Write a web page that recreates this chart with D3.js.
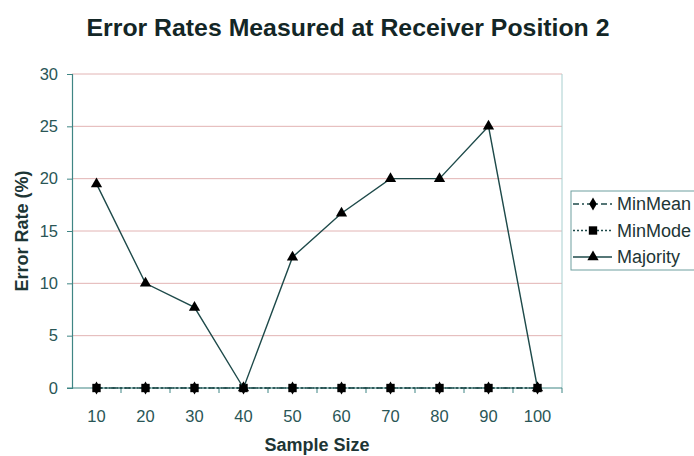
<!DOCTYPE html>
<html>
<head>
<meta charset="utf-8">
<script src="https://cdn.jsdelivr.net/npm/d3@7"></script>
<style>
  body { margin: 0; background: #fff; }
  text { font-family: "Liberation Sans", Arial, sans-serif; }
</style>
</head>
<body>
<div id="chart"></div>
<script>
// chart data
const sampleSizes = [10, 20, 30, 40, 50, 60, 70, 80, 90, 100];
const minMean = [0, 0, 0, 0, 0, 0, 0, 0, 0, 0];
const minMode = [0, 0, 0, 0, 0, 0, 0, 0, 0, 0];
const majority = [19.5, 10, 7.7, 0, 12.5, 16.7, 20, 20, 25, 0];
const yTicks = [0, 5, 10, 15, 20, 25, 30];

const width = 694;
const height = 456;
const margin = { top: 74, right: 132, bottom: 68, left: 72 };

const svg = d3.select('#chart').append('svg')
  .attr('width', width)
  .attr('height', height);

const xScale = d3.scaleBand()
  .domain(sampleSizes)
  .range([margin.left, width - margin.right]);

const yScale = d3.scaleLinear()
  .domain([0, 30])
  .range([height - margin.bottom, margin.top]);

const axisColor = '#3f8584';
const lineColor = '#1e4a4a';
const labelColor = '#2a5656';

// gridlines
svg.append('g')
  .selectAll('line')
  .data(yTicks.filter(d => d > 0))
  .enter()
  .append('line')
  .attr('x1', margin.left)
  .attr('x2', width - margin.right)
  .attr('y1', d => yScale(d))
  .attr('y2', d => yScale(d))
  .attr('stroke', '#e2b4b4')
  .attr('stroke-width', 1);

// plot border (right side)
svg.append('line')
  .attr('x1', width - margin.right)
  .attr('x2', width - margin.right)
  .attr('y1', margin.top)
  .attr('y2', height - margin.bottom)
  .attr('stroke', '#a8cfcf');

// y-axis
const yAxis = svg.append('g')
  .attr('transform', `translate(${margin.left}, 0)`)
  .call(d3.axisLeft(yScale).tickValues(yTicks).tickSize(5).tickPadding(9));
yAxis.select('.domain').attr('stroke', axisColor).attr('stroke-width', 1.2);
yAxis.selectAll('.tick line').attr('stroke', axisColor);
yAxis.selectAll('.tick text')
  .attr('font-size', 16.5)
  .attr('fill', labelColor)
  .attr('font-family', '"Liberation Sans", Arial, sans-serif');

// x-axis: ticks between categories
const xAxisG = svg.append('g')
  .attr('transform', `translate(0, ${height - margin.bottom})`);
xAxisG.append('line')
  .attr('x1', margin.left - 5)
  .attr('x2', width - margin.right)
  .attr('stroke', axisColor)
  .attr('stroke-width', 1.2);
xAxisG.selectAll('.xtick')
  .data(sampleSizes)
  .enter()
  .append('line')
  .attr('x1', d => xScale(d) + xScale.bandwidth())
  .attr('x2', d => xScale(d) + xScale.bandwidth())
  .attr('y1', 0)
  .attr('y2', 5)
  .attr('stroke', axisColor);
xAxisG.selectAll('.xlabel')
  .data(sampleSizes)
  .enter()
  .append('text')
  .attr('x', d => xScale(d) + xScale.bandwidth() / 2)
  .attr('y', 34)
  .attr('text-anchor', 'middle')
  .attr('font-size', 16.5)
  .attr('fill', labelColor)
  .text(d => d);

const line = d3.line()
  .x((d, i) => xScale(sampleSizes[i]) + xScale.bandwidth() / 2)
  .y(d => yScale(d));

const series = [
  { name: 'MinMean', values: minMean, dash: '6,3,2,3', marker: d3.symbolDiamond, size: 50 },
  { name: 'MinMode', values: minMode, dash: '2,2', marker: d3.symbolSquare, size: 70 },
  { name: 'Majority', values: majority, dash: null, marker: d3.symbolTriangle, size: 55 }
];

series.forEach(s => {
  svg.append('path')
    .datum(s.values)
    .attr('d', line)
    .attr('fill', 'none')
    .attr('stroke', lineColor)
    .attr('stroke-width', 1.4)
    .attr('stroke-dasharray', s.dash);

  svg.selectAll(null)
    .data(s.values)
    .enter()
    .append('path')
    .attr('d', d3.symbol().type(s.marker).size(s.size))
    .attr('transform', (d, i) => `translate(${xScale(sampleSizes[i]) + xScale.bandwidth() / 2}, ${yScale(d)})`)
    .attr('fill', '#000');
});

// title
svg.append('text')
  .attr('x', 348)
  .attr('y', 36)
  .attr('text-anchor', 'middle')
  .attr('font-size', 24)
  .attr('font-weight', 'bold')
  .attr('textLength', 523)
  .attr('lengthAdjust', 'spacingAndGlyphs')
  .attr('fill', '#132626')
  .text('Error Rates Measured at Receiver Position 2');

// axis titles
svg.append('text')
  .attr('x', 317)
  .attr('y', 451)
  .attr('text-anchor', 'middle')
  .attr('font-size', 18)
  .attr('font-weight', 'bold')
  .attr('fill', '#1d3535')
  .text('Sample Size');

svg.append('text')
  .attr('transform', 'rotate(-90)')
  .attr('x', -231)
  .attr('y', 28)
  .attr('text-anchor', 'middle')
  .attr('font-size', 18)
  .attr('font-weight', 'bold')
  .attr('fill', '#1d3535')
  .text('Error Rate (%)');

// legend
const legend = svg.append('g').attr('transform', 'translate(571, 191)');
legend.append('rect')
  .attr('x', 0)
  .attr('y', 0)
  .attr('width', 130)
  .attr('height', 79)
  .attr('fill', '#fff')
  .attr('stroke', '#6f9f9f');

series.forEach((s, i) => {
  const yy = 13 + i * 26.5;
  legend.append('line')
    .attr('x1', 2)
    .attr('x2', 41)
    .attr('y1', yy)
    .attr('y2', yy)
    .attr('stroke', lineColor)
    .attr('stroke-width', 1.4)
    .attr('stroke-dasharray', s.dash);
  legend.append('path')
    .attr('d', d3.symbol().type(s.marker).size(s.size))
    .attr('transform', `translate(22, ${yy})`)
    .attr('fill', '#000');
  legend.append('text')
    .attr('x', 46)
    .attr('y', yy + 6)
    .attr('font-size', 18)
    .attr('fill', '#1d3535')
    .text(s.name);
});
</script>
</body>
</html>
